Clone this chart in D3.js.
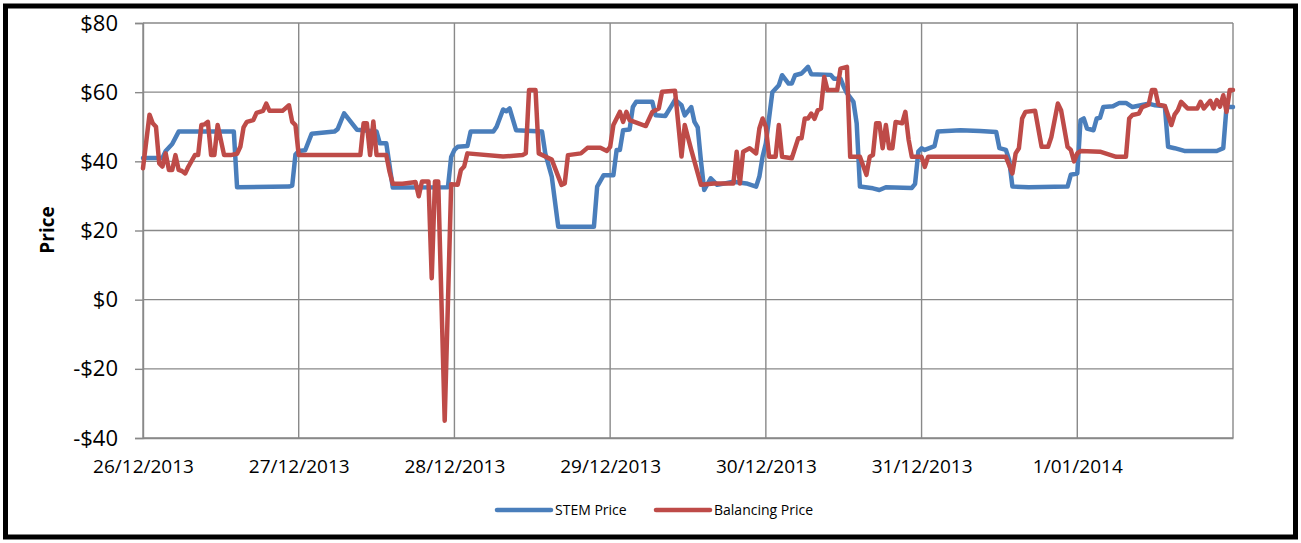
<!DOCTYPE html>
<html>
<head>
<meta charset="utf-8">
<script src="https://cdn.jsdelivr.net/npm/d3@7"></script>
<style>
  body { margin: 0; background: #fff; }
  svg { display: block; }
</style>
</head>
<body>
<div id="chart"></div>
<script>
// Day labels along the x axis (one per calendar day)
const dayLabels = ["26/12/2013", "27/12/2013", "28/12/2013", "29/12/2013", "30/12/2013", "31/12/2013", "1/01/2014"];
const priceTicks = [-40, -20, 0, 20, 40, 60, 80];

// [hours since 26/12/2013 00:00, price $]
const stemPoints = [
  [0,41],[3,41],[3.5,43],[4,44],[4.5,45],[5.5,48.6],[14,48.6],[14.5,32.5],[22.5,32.7],[23,33],[23.5,42],[24,43],
  [25,43.2],[26,48],[29.5,48.6],[30,49.3],[31,53.9],[32,51.5],[33,49.1],[36,48.6],[36.5,45.2],[37.5,45.2],[38.5,32.4],
  [47,32.5],[47.5,41.3],[48,43.3],[48.5,44.2],[50,44.4],[50.5,48.6],[54,48.6],[54.5,50],[55.5,55],[56,54.5],[56.5,55.3],
  [57.5,49],[61.5,48.6],[62,42.3],[63,35.6],[64,21.1],[69.5,21.1],[70,32.7],[71,36],[72.5,36],[73,43.3],[73.5,43.3],
  [74,49],[75,49.2],[75.5,55.7],[76,57.2],[78.5,57.2],[79,53.3],[80.5,53.1],[81.5,56.2],[82,57.8],[83,56.2],[83.5,53.3],
  [84.5,55.7],[85,51.4],[85.5,49.8],[86,40],[86.5,31.7],[87.5,35.1],[88.5,33.2],[91,34.1],[93,33.6],[94.5,32.7],
  [95,35.6],[95.5,41.4],[96,45.2],[97,60],[98,62],[98.5,64.9],[99.5,62.5],[100,62.5],[100.5,64.9],[101.5,65.4],
  [102.5,67.3],[103,65.2],[106,65],[106.5,63.9],[107.5,63.9],[108,61.6],[108.5,59.7],[109.5,57.2],[110,51],[110.5,32.7],
  [112.5,32.2],[113.5,31.7],[114.5,32.5],[118.5,32.3],[119,33.5],[119.5,42.8],[120,43.8],[120.5,43.3],[122,44.4],
  [122.5,48.6],[126,49],[129,48.8],[131.5,48.5],[132,43.8],[133,43.3],[133.5,40.4],[134,32.7],[136.5,32.5],[142.5,32.7],
  [143,36.1],[144,36.5],[144.5,51.9],[145,52.4],[145.5,49.5],[146.5,49],[147,52.4],[147.5,52.6],[148,55.7],[149.5,55.9],
  [150.5,56.9],[151.5,56.9],[152.5,55.7],[154,56.3],[155,56.7],[156,56.2],[157.5,55.9],[158,44.2],[159,43.8],[160.5,43],
  [165.5,43],[166.5,43.8],[167,55.7],[168,55.7]
];

const balancingPoints = [
  [0,38],[1,53.5],[1.5,51],[2,50],[2.5,39.4],[3,38.5],[3.5,42.3],[4,37.5],[4.5,37.5],[5,41.8],[5.5,37.5],[6,37.2],
  [6.5,36.5],[7,38.5],[8,41.8],[8.5,41.8],[9,50.5],[9.5,50.7],[10,51.4],[10.5,41.8],[11,41.8],[11.5,50.5],[12.5,41.8],
  [13.5,41.8],[14.5,42.2],[15,44.2],[15.5,49.8],[16,51.4],[17,51.9],[17.5,54],[18.5,54.6],[19,56.7],[19.5,54.6],
  [21.5,54.6],[22.5,56.2],[23,51.4],[23.5,50.5],[24,41.8],[33.5,41.8],[34,51],[34.5,51],[35,41.8],[35.5,51.5],[36,41.8],
  [37.5,41.8],[38,37],[38.5,33.5],[40,33.5],[41.5,33.9],[42,34],[42.5,29.9],[43,34.2],[44,34.2],[44.5,6.2],[45,34.2],
  [45.5,34.2],[46.5,-35],[47.5,33.4],[48.5,33.2],[49,37.5],[49.5,38.5],[50,42.3],[55.5,41.4],[58.5,41.8],[59,42.3],
  [59.5,60.6],[60.5,60.6],[61,42.3],[62,41.4],[63,40.5],[64.5,33.2],[65,33.6],[65.5,41.8],[67.5,42.3],[68.5,43.9],
  [70.5,43.9],[71.5,43],[72,44.2],[72.5,50.5],[73.5,54.3],[74,51.4],[74.5,54.3],[75,51.9],[77.5,50.2],[78.5,54.3],
  [79.5,55.3],[80,60.1],[82,60.4],[83,41.4],[83.5,50.5],[84.5,43.3],[86,33.2],[88,33.6],[91,33.6],[91.5,42.8],[92,33.6],
  [92.5,42.8],[93.5,43.8],[94.5,42.3],[95,49.5],[95.5,52.4],[96,50],[96.5,41.3],[97.5,41.3],[98,50.5],[98.5,41.3],
  [100,40.9],[101,46.7],[101.5,46.7],[102,52.4],[102.5,52.4],[103,53.8],[103.5,52.3],[104,54.8],[104.5,55.3],[105,64.4],
  [105.5,60.6],[107,60.6],[107.5,66.8],[108.5,67.3],[109,41.3],[110.5,41.3],[111.5,36.1],[112,41.3],[112.5,41.8],[113,51],
  [113.5,51],[114,43.8],[114.5,50.5],[115,43.8],[115.5,43.8],[116,51.4],[117,51],[117.5,54.3],[118,46.3],[118.5,41.3],
  [120,41.3],[120.5,38.4],[121,41.3],[133,41.3],[134,36.5],[134.5,42.3],[135,43.8],[135.5,52.4],[136,54.3],[137.5,54.6],
  [138.5,44.2],[139.5,44.2],[140,47],[141,56.7],[141.5,54.8],[142.5,44.2],[143,43.3],[143.5,40],[144,42.3],[144.5,43],
  [147.5,42.8],[150,41.3],[151.5,41.3],[152,52.4],[152.5,53.4],[153.5,53.8],[154,55.7],[155,56.4],[155.5,60.6],[156,60.6],
  [156.5,56.4],[157.5,56],[158.5,50.5],[159,53.5],[159.5,54.8],[160,57.2],[161,55.3],[162.5,55.3],[163,57.2],[163.5,55.3],
  [164.5,57.5],[165,55.3],[165.5,57.7],[166,55.8],[166.5,59.1],[167,54.3],[167.5,60.6],[168,60.6]
];

const W = 1301, H = 543;
const margin = { left: 143, top: 23, right: 68, bottom: 105 };
const gridColor = "#898989";
const font = "'Open Sans', sans-serif";

const svg = d3.select("#chart").append("svg")
  .attr("width", W)
  .attr("height", H);

// outer frame
svg.append("rect")
  .attr("x", 5.5).attr("y", 6)
  .attr("width", 1290).attr("height", 531)
  .attr("fill", "#fff")
  .attr("stroke", "#000")
  .attr("stroke-width", 5);

const start = new Date(2013, 11, 26);
const hourToDate = h => new Date(start.getTime() + h * 3600 * 1000);

const x = d3.scaleTime()
  .domain([start, hourToDate(168)])
  .range([margin.left, W - margin.right]);

const y = d3.scaleLinear()
  .domain([-40, 80])
  .range([H - margin.bottom, margin.top]);

// horizontal gridlines
svg.append("g")
  .selectAll("line")
  .data(priceTicks)
  .enter().append("line")
  .attr("x1", margin.left).attr("x2", W - margin.right)
  .attr("y1", d => y(d)).attr("y2", d => y(d))
  .attr("stroke", gridColor)
  .attr("stroke-width", 1.4);

// vertical gridlines, one per day plus the closing edge
const dayDates = d3.range(dayLabels.length + 1).map(i => hourToDate(i * 24));
svg.append("g")
  .selectAll("line")
  .data(dayDates)
  .enter().append("line")
  .attr("x1", d => x(d)).attr("x2", d => x(d))
  .attr("y1", margin.top).attr("y2", H - margin.bottom)
  .attr("stroke", gridColor)
  .attr("stroke-width", 1.4);

// y axis
const yAxis = svg.append("g")
  .attr("transform", `translate(${margin.left},0)`)
  .call(d3.axisLeft(y)
    .tickValues(priceTicks)
    .tickSize(8)
    .tickPadding(17)
    .tickFormat(d => (d < 0 ? "-$" : "$") + Math.abs(d)));
yAxis.select(".domain").attr("stroke", gridColor).attr("stroke-width", 1.4);
yAxis.selectAll(".tick line").attr("stroke", gridColor).attr("stroke-width", 1.4);
yAxis.selectAll(".tick text")
  .attr("font-family", font)
  .attr("font-size", "22px")
  .attr("fill", "#000");

// x axis (labels only, no tick marks)
const xAxis = svg.append("g")
  .attr("transform", `translate(0,${H - margin.bottom})`)
  .call(d3.axisBottom(x)
    .tickValues(dayDates.slice(0, dayLabels.length))
    .tickSize(0)
    .tickPadding(22)
    .tickFormat((d, i) => dayLabels[i]));
xAxis.select(".domain").attr("stroke", gridColor).attr("stroke-width", 1.4);
xAxis.selectAll(".tick text")
  .attr("font-family", font)
  .attr("font-size", "19px")
  .attr("fill", "#000");

// y axis title
svg.append("text")
  .attr("transform", "translate(54,230) rotate(-90)")
  .attr("text-anchor", "middle")
  .attr("font-family", font)
  .attr("font-weight", "bold")
  .attr("font-size", "19px")
  .text("Price");

// series
const series = [
  { name: "STEM Price", color: "#4A7EBB", points: stemPoints },
  { name: "Balancing Price", color: "#BE4B48", points: balancingPoints }
];

const line = d3.line()
  .x(d => x(hourToDate(d[0])))
  .y(d => y(d[1]));

svg.append("g")
  .selectAll("path")
  .data(series)
  .enter().append("path")
  .attr("d", d => line(d.points))
  .attr("fill", "none")
  .attr("stroke", d => d.color)
  .attr("stroke-width", 4.5)
  .attr("stroke-linejoin", "round")
  .attr("stroke-linecap", "round");

// legend
const legendX = [497, 656];
const legend = svg.append("g")
  .selectAll("g")
  .data(series)
  .enter().append("g")
  .attr("transform", (d, i) => `translate(${legendX[i]},510)`);

legend.append("line")
  .attr("x1", 0).attr("x2", 54)
  .attr("stroke", d => d.color)
  .attr("stroke-width", 4.5)
  .attr("stroke-linecap", "round");

legend.append("text")
  .attr("x", 58)
  .attr("y", 5)
  .attr("font-family", font)
  .attr("font-size", "14px")
  .text(d => d.name);
</script>
</body>
</html>
